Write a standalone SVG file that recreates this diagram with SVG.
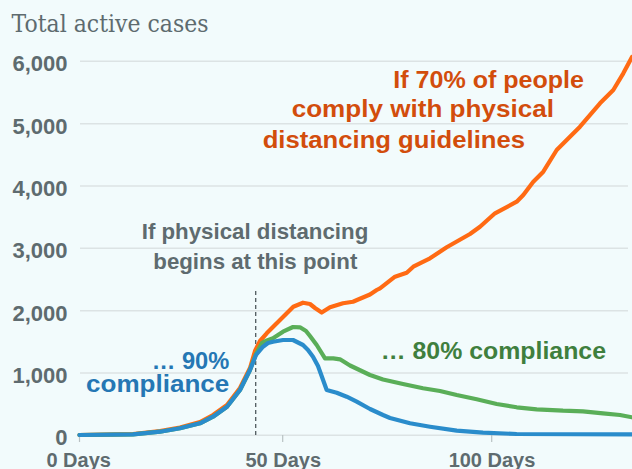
<svg xmlns="http://www.w3.org/2000/svg" width="632" height="469" viewBox="0 0 632 469">
<style>
.bg{fill:#f2fbfc}
.grid{stroke:#dce3e4;stroke-width:1.5;fill:none}
.tick{stroke:#b9c1c3;stroke-width:1.2}
.ylab{font-family:"Liberation Sans",Arial,sans-serif;font-weight:bold;font-size:22px;fill:#5e6b6f;text-anchor:end}
.xlab{font-family:"Liberation Sans",Arial,sans-serif;font-weight:bold;font-size:20px;fill:#5e6b6f;text-anchor:middle}
.title{font-family:"DejaVu Serif","Liberation Serif",serif;font-size:23.5px;fill:#5e6b6f}
.ann{font-family:"Liberation Sans",Arial,sans-serif;font-weight:bold;font-size:23.5px}
.line{fill:none;stroke-width:4.2;stroke-linejoin:round;stroke-linecap:round}
</style>
<rect class="bg" x="0" y="0" width="632" height="469"/>
<text class="title" x="11.5" y="32.3" textLength="197" lengthAdjust="spacingAndGlyphs">Total active cases</text>
<g id="gridlines">
<line class="grid" x1="80" y1="61.3" x2="628" y2="61.3"/>
<line class="grid" x1="80" y1="123.7" x2="628" y2="123.7"/>
<line class="grid" x1="80" y1="186" x2="628" y2="186"/>
<line class="grid" x1="80" y1="248.3" x2="628" y2="248.3"/>
<line class="grid" x1="80" y1="310.7" x2="628" y2="310.7"/>
<line class="grid" x1="80" y1="373" x2="628" y2="373"/>
<line class="grid" x1="80" y1="435.3" x2="632" y2="435.3"/>
<line class="tick" x1="79.5" y1="435" x2="79.5" y2="442"/>
<line class="tick" x1="282.7" y1="435" x2="282.7" y2="442"/>
<line class="tick" x1="491.7" y1="435" x2="491.7" y2="442"/>
</g>
<g id="y-axis">
<text class="ylab" x="67.5" y="71">6,000</text>
<text class="ylab" x="67.5" y="133.5">5,000</text>
<text class="ylab" x="67.5" y="196">4,000</text>
<text class="ylab" x="67.5" y="258.3">3,000</text>
<text class="ylab" x="67.5" y="320.7">2,000</text>
<text class="ylab" x="67.5" y="383">1,000</text>
<text class="ylab" x="67.5" y="445.3">0</text>
</g>
<g id="x-axis">
<text class="xlab" x="78.7" y="466.5">0 Days</text>
<text class="xlab" x="283.3" y="466.5">50 Days</text>
<text class="xlab" x="492" y="466.5">100 Days</text>
</g>
<g id="connectors">
<line id="start-marker" x1="255.7" y1="291" x2="255.7" y2="435" stroke="#4f5a5e" stroke-width="1.3" stroke-dasharray="4 3"/>
<polyline id="orange-70" class="line" stroke="#ff6a13" points="79.5,435 133,434 160,431 180,427.5 200,422 213,415 227,405 240,388 250,368 255,351 260,341 266.7,333.3 280,320 293.3,306.7 303,302.7 310,304 315,308 321.7,312.5 330,307.3 343,303.3 353,301.7 357,300 370,294.5 376.7,290 380,288.3 395,276.7 406.7,272.7 413.3,266.7 430,258.3 446.7,247.3 470,234 480,226.7 495,213.3 516.7,201.7 523.3,195 533.3,181.7 543.3,171.7 556.7,150 580,126.7 600,103.3 613.3,90 623.3,73.3 632,57"/>
<polyline id="green-80" class="line" stroke="#5aae58" points="79.5,435 133,434.3 160,431.7 180,428.3 200,423.3 213,416.7 227,406.7 240,390 250,370 256,354 262,343 267,340.5 273,338.3 283,331.7 293,327 300,327.3 306,331 310,336 316.7,345 325,358.3 333.3,358.3 340,359.3 350,365.5 370,375 383,379.5 403,384 423,388.3 440,391 456.7,395 476.7,399.3 496.7,404 516.7,407.3 536.7,409.3 563,410.7 583,411.3 603,413.3 620,415 632,417.3"/>
<polyline id="blue-90" class="line" stroke="#2a8ccb" points="79.5,435 133,434.3 160,431.7 180,428.3 200,423.3 213,416.7 227,406.7 240,390 250,370 256,355 263,346.7 268,343 273,341.7 283,340 293,340 303,345 308,350 313,356.7 318,366 322,377 326.7,390 336.7,392.7 346.7,396.7 356.7,401.7 370,409 383,415 390,418 410,423.3 430,426.7 456.7,430.7 483,432.7 516.7,434 632,434.3"/>
</g>
<g id="label-70" class="ann" fill="#d24d0c">
<text x="393.3" y="87.5" textLength="190.7" lengthAdjust="spacingAndGlyphs">If 70% of people</text>
<text x="291.7" y="117" textLength="262.3" lengthAdjust="spacingAndGlyphs">comply with physical</text>
<text x="262.7" y="147.5" textLength="262.3" lengthAdjust="spacingAndGlyphs">distancing guidelines</text>
</g>
<g id="label-start" class="ann" fill="#5e6b6f">
<text x="141.7" y="239.3" textLength="226.6" lengthAdjust="spacingAndGlyphs" style="font-size:22px">If physical distancing</text>
<text x="153.3" y="269.3" textLength="204" lengthAdjust="spacingAndGlyphs" style="font-size:22px">begins at this point</text>
</g>
<g id="label-90" class="ann" fill="#2577b4">
<text x="151.7" y="369.3" textLength="77.6" lengthAdjust="spacingAndGlyphs">… 90%</text>
<text x="86" y="392" textLength="143.3" lengthAdjust="spacingAndGlyphs">compliance</text>
</g>
<g id="label-80" class="ann" fill="#3f7f3e">
<text x="380.7" y="359.3" textLength="225.3" lengthAdjust="spacingAndGlyphs" style="font-size:24px">… 80% compliance</text>
</g>
</svg>
